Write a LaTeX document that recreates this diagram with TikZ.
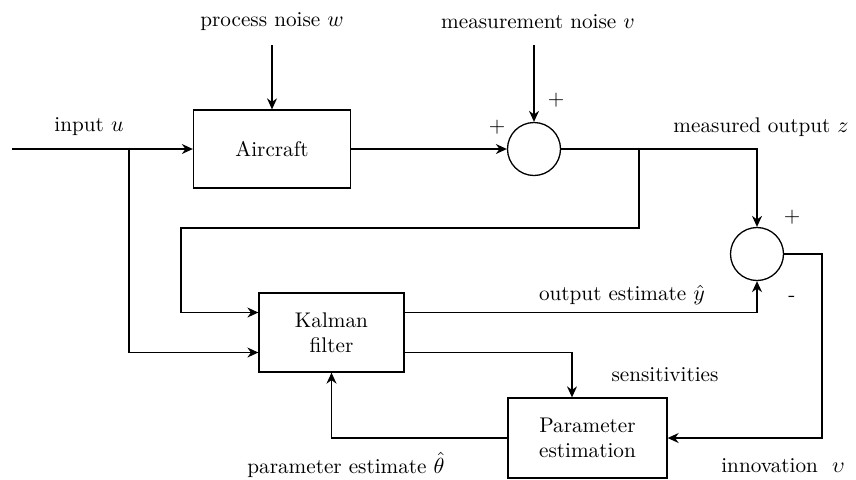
\documentclass[tikz,border=0pt]{standalone}
\usepackage{amsmath,amssymb}
\usetikzlibrary{arrows.meta,calc}

\begin{document}
\begin{tikzpicture}[x=0.5pt,y=-0.5pt,line width=0.65pt,
  >={Stealth[length=5.5pt,width=5pt]},
  block/.style={draw,rectangle,align=center,inner sep=0pt},
  sumnode/.style={draw,circle,minimum size=26.5pt,inner sep=0pt},
  font=\fontsize{10.6}{12.5}\selectfont]
\useasboundingbox (0,0) rectangle (856,479);
% blocks and summing points
\node[block,minimum width=78.5pt,minimum height=39pt] (aircraft) at (272,149) {Aircraft};
\node[block,minimum width=72.5pt,minimum height=39.5pt] (kf) at (331.5,332.5) {Kalman\\filter};
\node[block,minimum width=79.5pt,minimum height=40pt] (param) at (587.5,438) {Parameter\\estimation};
\node[sumnode] (sum1) at (534,149) {};
\node[sumnode] (sum2) at (757,254) {};
% labels
\node (wlbl) at (272,22) {process noise $w$};
\node (vlbl) at (538,22) {measurement noise $v$};
\node (ulbl) at (89,127) {input $u$};
\node (zlbl) at (761,127) {measured output $z$};
\node (ylbl) at (622,295) {output estimate $\hat{y}$};
\node (slbl) at (665,375) {sensitivities};
\node (thlbl) at (346,465) {parameter estimate $\hat{\theta}$};
\node (nulbl) at (783,466) {innovation\ \ $\upsilon$};
\node at (497,127) {+};
\node at (556,100) {+};
\node at (792,217) {+};
\node at (792,299) {-};
% free ends and corners
\coordinate (uin) at (12,149);
\coordinate (ubranch) at (129,149);
\coordinate (wtop) at (272,45);
\coordinate (vtop) at (534,45);
\coordinate (zbranch) at (639,149);
\coordinate (fbcorner) at (639,228);
\coordinate (fbleft) at (181,228);
\coordinate (innov) at (822,254);
% connectors
\draw[->] (uin) -- (aircraft.west);
\draw[->] (wtop) -- (aircraft.north);
\draw[->] (aircraft.east) -- (sum1.west);
\draw[->] (vtop) -- (sum1.north);
\draw[->] (sum1.east) -| (sum2.north);
\draw[->] (zbranch) -- (fbcorner) -- (fbleft) |- ([yshift=10pt]kf.west);
\draw[->] (ubranch) |- ([yshift=-10pt]kf.west);
\draw[->] ([yshift=10pt]kf.east) -| (sum2.south);
\draw[->] ([yshift=-10pt]kf.east) -| ([xshift=-7.75pt]param.north);
\draw[->] (sum2.east) -- (innov) |- (param.east);
\draw[->] (param.west) -| (kf.south);
\end{tikzpicture}
\end{document}
